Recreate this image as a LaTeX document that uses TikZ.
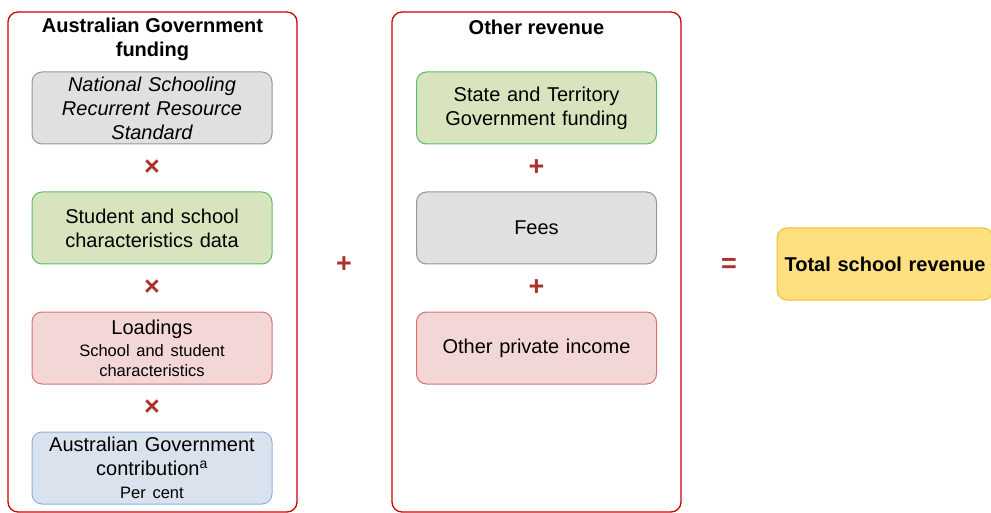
\documentclass[tikz,border=0pt]{standalone}
\usepackage{fontspec}
\setmainfont{Liberation Sans}
\definecolor{panelred}{RGB}{204,0,0}
\definecolor{opred}{RGB}{170,50,45}
\definecolor{greyfill}{RGB}{224,224,224}
\definecolor{greyline}{RGB}{150,150,150}
\definecolor{greenfill}{RGB}{215,228,190}
\definecolor{greenline}{RGB}{90,190,110}
\definecolor{redfill}{RGB}{243,215,214}
\definecolor{redline}{RGB}{215,115,110}
\definecolor{bluefill}{RGB}{218,226,238}
\definecolor{blueline}{RGB}{140,178,228}
\definecolor{yellowfill}{RGB}{254,224,128}
\definecolor{yellowline}{RGB}{244,192,40}
\newcommand{\bigtext}{\fontsize{20}{24}\selectfont}
\newcommand{\smalltext}{\fontsize{16.5}{20}\selectfont}
\begin{document}
\begin{tikzpicture}[x=1pt, y=-1pt,
		  panel/.style={draw=panelred, line width=1.3pt, rounded corners=10pt, minimum width=289pt, minimum height=500pt, inner sep=0pt},
		  item/.style={rounded corners=10pt, line width=1pt, minimum width=240pt, minimum height=72pt, text width=236pt, align=center, inner sep=0pt, font=\bigtext},
		  grey item/.style={item, draw=greyline, fill=greyfill},
		  green item/.style={item, draw=greenline, fill=greenfill},
		  red item/.style={item, draw=redline, fill=redfill},
		  blue item/.style={item, draw=blueline, fill=bluefill},
		  head/.style={font=\bigtext\bfseries, align=center},
		  op/.style={text=opred, font=\fontsize{27}{30}\selectfont\bfseries}]
		  \useasboundingbox (0,0) rectangle (991,513);
		  \node[panel] (gov panel) at (152.5,262) {};
		  \node[panel] (other panel) at (536.5,262) {};
		  \node[head] (gov head) at (152.5,39) {Australian Government\\funding};
		  \node[head] (other head) at (536.5,27) {Other revenue};
		  % Australian Government funding
		  \node[grey item] (srs) at (152,108) {\itshape National Schooling\\Recurrent Resource\\Standard};
		  \node[green item] (data) at (152,228) {Student and school\\characteristics data};
		  \node[red item] (loadings) at (152,348) {Loadings\\[-2pt]{\smalltext School and student}\\[-4pt]{\smalltext characteristics}};
		  \node[blue item] (contrib) at (152,468) {Australian Government\\contribution\textsuperscript{a}\\[-1pt]{\smalltext Per cent}};
		  \foreach \y/\n in {168/1,288/2,408/3}{
		      \node[op] (times\n) at (152,\y) {×};
		  }
		  % Other revenue
		  \node[green item] (state) at (536.5,108) {State and Territory\\Government funding};
		  \node[grey item] (fees) at (536.5,228) {Fees};
		  \node[red item] (private) at (536.5,348) {Other private income};
		  \foreach \y/\n in {168/1,288/2}{
		      \node[op] (plus\n) at (536.5,\y) {+};
		  }
		  \node[op] (plus) at (344,265) {+};
		  \node[op] (equals) at (729,265) {=};
		  \node[item, draw=yellowline, fill=yellowfill, minimum width=216pt, text width=212pt, font=\bigtext\bfseries] (total) at (885,264) {Total school revenue};
\end{tikzpicture}
\end{document}
